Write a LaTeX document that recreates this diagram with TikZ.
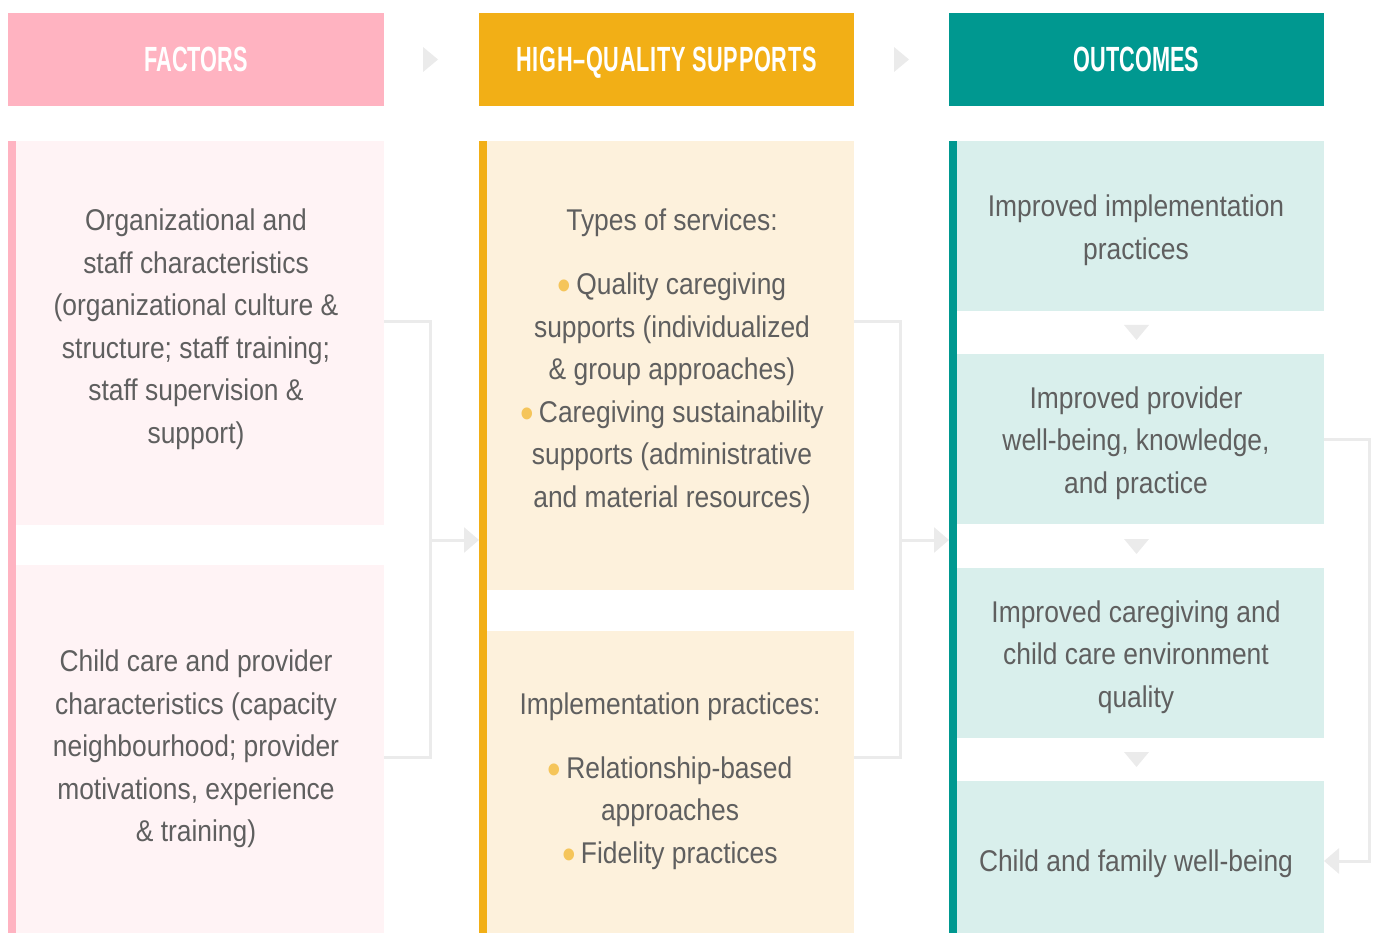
\documentclass[tikz,border=0pt]{standalone}
\usepackage{fontspec}
\setmainfont{Liberation Sans}[FakeStretch=0.88]
\newfontfamily\hdfont{Liberation Sans}[FakeStretch=0.62]
\usetikzlibrary{arrows.meta,calc}
\definecolor{pinkH}{HTML}{FFB3C1}
\definecolor{pinkL}{HTML}{FFF3F5}
\definecolor{orgH}{HTML}{F2AF16}
\definecolor{orgL}{HTML}{FDF1DC}
\definecolor{tealH}{HTML}{009890}
\definecolor{tealL}{HTML}{D9EFEC}
\definecolor{gl}{HTML}{EBEBEB}
\definecolor{txtc}{HTML}{5F5F5F}
\definecolor{bulc}{HTML}{F5C55A}
\newcommand\bul{{\color{bulc}\fontsize{44pt}{44pt}\selectfont\raisebox{-6pt}{\textbullet}}\,}
\begin{document}
\begin{tikzpicture}[x=1pt,y=-1pt,
  hdr/.style={inner sep=0pt,outer sep=0pt,minimum height=93pt,text=white,
    text height=25pt,text depth=0pt,
    font=\hdfont\bfseries\fontsize{35pt}{40pt}\selectfont},
  panel/.style={inner sep=0pt,outer sep=0pt,anchor=north west,minimum width=367pt},
  barbox/.style={inner sep=0pt,outer sep=0pt,anchor=north west,minimum width=8pt,minimum height=792pt},
  txt/.style={align=center,text=txtc,inner sep=0pt,font=\fontsize{30pt}{42.5pt}\selectfont},
  conn/.style={draw=gl,line width=3pt},
  tip/.style={-{Triangle[length=15pt,width=25pt]}},
]
\useasboundingbox (0,0) rectangle (1374,933);
% headers
\node[hdr,fill=pinkH,minimum width=376pt] (h1) at (196,59.5) {FACTORS};
\node[hdr,fill=orgH,minimum width=375pt] (h2) at (666.5,59.5) {\addfontfeatures{LetterSpace=2}HIGH\textendash QUALITY SUPPORTS};
\node[hdr,fill=tealH,minimum width=375pt] (h3) at (1136.5,59.5) {OUTCOMES};
\fill[gl] ($(h1.east)+(39,-12.5)$) -- ++(15,12.5) -- ++(-15,12.5) -- cycle;
\fill[gl] ($(h2.east)+(40,-12.5)$) -- ++(15,12.5) -- ++(-15,12.5) -- cycle;
% panels
\node[panel,fill=pinkL,minimum width=368pt,minimum height=384pt] (f1) at (16,141) {};
\node[panel,fill=pinkL,minimum width=368pt,minimum height=368pt] (f2) at (16,565) {};
\node[barbox,fill=pinkH] (fb) at (8,141) {};
\node[panel,fill=orgL,minimum height=449pt] (s1) at (487,141) {};
\node[panel,fill=orgL,minimum height=302pt] (s2) at (487,631) {};
\node[barbox,fill=orgH] (sb) at (479,141) {};
\node[panel,fill=tealL,minimum height=170pt] (o1) at (957,141) {};
\node[panel,fill=tealL,minimum height=170pt] (o2) at (957,354) {};
\node[panel,fill=tealL,minimum height=170pt] (o3) at (957,568) {};
\node[panel,fill=tealL,minimum height=152pt] (o4) at (957,781) {};
\node[barbox,fill=tealH] (ob) at (949,141) {};
% down triangles
\fill[gl] ($(o1.south)+(-16.5,14)$) -- ++(25,0) -- ++(-12.5,15) -- cycle;
\fill[gl] ($(o2.south)+(-16.5,15)$) -- ++(25,0) -- ++(-12.5,15) -- cycle;
\fill[gl] ($(o3.south)+(-16.5,14)$) -- ++(25,0) -- ++(-12.5,15) -- cycle;
% brackets
\coordinate (b1) at (430,540);
\coordinate (b2) at (900,540);
\coordinate (b3) at (1369,650);
\draw[conn] ([yshift=11pt]f1.east) -| (b1) |- ([yshift=-8pt]f2.east);
\draw[conn,tip] (b1) -- (b1 -| sb.west);
\draw[conn] ([yshift=43.5pt]s1.east) -| (b2) |- ([yshift=25pt]s2.east);
\draw[conn,tip] (b2) -- (b2 -| ob.west);
\draw[conn,tip] (o2.east) -| (b3) |- ([yshift=-4pt]o4.east);
% texts
\node[txt] (tf1) at (196,329) {Organizational and\\staff characteristics\\(organizational culture \&\\structure; staff training;\\staff supervision \&\\support)};
\node[txt] (tf2) at (196,749) {Child care and provider\\characteristics (capacity\\neighbourhood; provider\\motivations, experience\\\& training)};
\node[txt] (ts1) at (672,361) {Types of services:\\[21.5pt]\bul Quality caregiving\\supports (individualized\\\& group approaches)\\\bul Caregiving sustainability\\supports (administrative\\and material resources)};
\node[txt] (ts2) at (670,781) {Implementation practices:\\[21.5pt]\bul Relationship-based\\approaches\\\bul Fidelity practices};
\node[txt] (to1) at (1136,230) {Improved implementation\\practices};
\node[txt] (to2) at (1136,443) {Improved provider\\well-being, knowledge,\\and practice};
\node[txt] (to3) at (1136,657) {Improved caregiving and\\child care environment\\quality};
\node[txt] (to4) at (1136,864) {Child and family well-being};
\end{tikzpicture}
\end{document}
